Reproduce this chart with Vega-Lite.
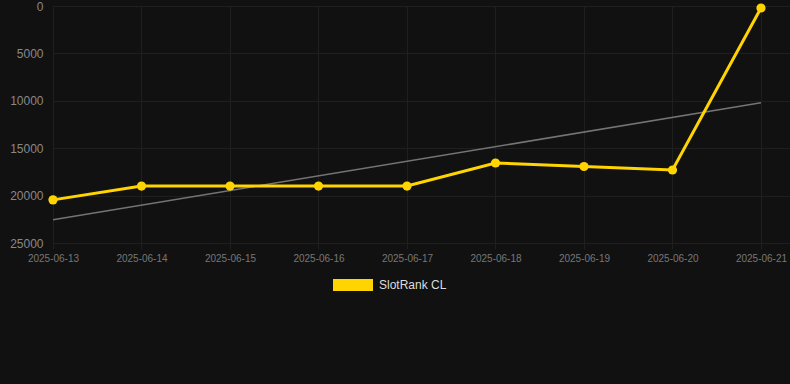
{
  "$schema": "https://vega.github.io/schema/vega-lite/v6.json",
  "width": 737,
  "height": 237,
  "autosize": {"type": "none"},
  "padding": {"left": 53, "top": 6, "right": 0, "bottom": 141},
  "background": "#111111",
  "config": {
    "view": {"stroke": null},
    "font": "Liberation Sans"
  },
  "data": {
    "values": [
      {"date": "2025-06-13", "rank": 20450},
      {"date": "2025-06-14", "rank": 18990},
      {"date": "2025-06-15", "rank": 18990},
      {"date": "2025-06-16", "rank": 18990},
      {"date": "2025-06-17", "rank": 18990},
      {"date": "2025-06-18", "rank": 16560},
      {"date": "2025-06-19", "rank": 16930},
      {"date": "2025-06-20", "rank": 17300},
      {"date": "2025-06-21", "rank": 210}
    ],
    "format": {"parse": {"date": "utc:'%Y-%m-%d'"}}
  },
  "encoding": {
    "x": {
      "field": "date",
      "type": "temporal",
      "title": null,
      "scale": {
        "type": "utc",
        "domain": [
          {"year": 2025, "month": 6, "date": 13, "utc": true},
          {"year": 2025, "month": 6, "date": 21, "hours": 7, "minutes": 52, "utc": true}
        ]
      },
      "axis": {
        "labelExpr": "utcFormat(datum.value, '%Y-%m-%d')",
        "values": [
          {"year": 2025, "month": 6, "date": 13, "utc": true},
          {"year": 2025, "month": 6, "date": 14, "utc": true},
          {"year": 2025, "month": 6, "date": 15, "utc": true},
          {"year": 2025, "month": 6, "date": 16, "utc": true},
          {"year": 2025, "month": 6, "date": 17, "utc": true},
          {"year": 2025, "month": 6, "date": 18, "utc": true},
          {"year": 2025, "month": 6, "date": 19, "utc": true},
          {"year": 2025, "month": 6, "date": 20, "utc": true},
          {"year": 2025, "month": 6, "date": 21, "utc": true}
        ],
        "domain": false,
        "grid": true,
        "gridColor": "#1f1f1f",
        "ticks": true,
        "tickColor": "#1f1f1f",
        "tickSize": 6,
        "labelPadding": 4,
        "labelFontSize": 10,
        "labelColor": "#777777",
        "labelAngle": 0,
        "labelFlush": false,
        "labelOverlap": false
      }
    },
    "y": {
      "field": "rank",
      "type": "quantitative",
      "title": null,
      "scale": {"domain": [0, 25000], "reverse": true, "nice": false, "zero": false},
      "axis": {
        "values": [0, 5000, 10000, 15000, 20000, 25000],
        "format": "d",
        "domain": false,
        "ticks": false,
        "grid": true,
        "gridColor": "#1f1f1f",
        "labelPadding": 10,
        "labelFontSize": 12,
        "labelColor": "#888888"
      }
    }
  },
  "layer": [
    {
      "transform": [{"regression": "rank", "on": "date"}],
      "mark": {"type": "line", "color": "#747474", "strokeWidth": 1.6}
    },
    {
      "mark": {"type": "line", "color": "#FFD400", "strokeWidth": 3}
    },
    {
      "mark": {"type": "point", "filled": true, "size": 85, "opacity": 1},
      "encoding": {
        "color": {
          "datum": "SlotRank CL",
          "type": "nominal",
          "scale": {"range": ["#FFD400"]},
          "legend": {
            "title": null,
            "orient": "none",
            "legendX": 280,
            "legendY": 259,
            "padding": 0,
            "symbolType": "M-1,-0.3H1V0.3H-1Z",
            "symbolSize": 1600,
            "symbolStrokeWidth": 0,
            "symbolOpacity": 1,
            "labelFontSize": 12,
            "labelColor": "#dddddd",
            "labelOffset": 6
          }
        }
      }
    }
  ]
}
